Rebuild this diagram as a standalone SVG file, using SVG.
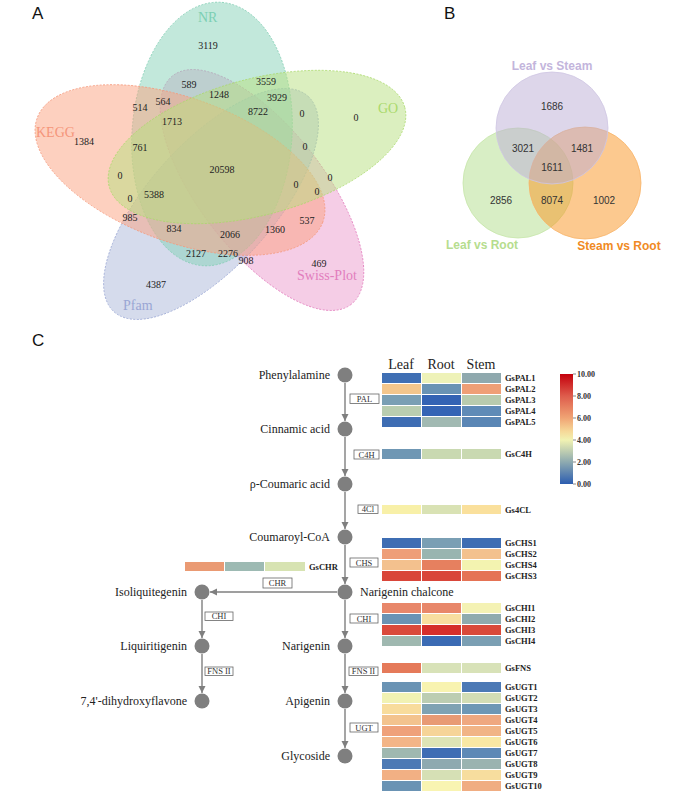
<svg xmlns="http://www.w3.org/2000/svg" width="685" height="793" viewBox="0 0 685 793">
<style>
.pl{font-family:"Liberation Sans",Arial,sans-serif;font-size:17px;fill:#111}
.va{font-family:"Liberation Serif","Times New Roman",serif;font-size:10px;fill:#222;text-anchor:middle}
.vl{font-family:"Liberation Serif","Times New Roman",serif;font-size:14px}
.vb{font-family:"Liberation Sans",Arial,sans-serif;font-size:10px;fill:#333;text-anchor:middle}
.vbl{font-family:"Liberation Sans",Arial,sans-serif;font-size:12px;font-weight:bold;text-anchor:middle}
.nd{fill:#7f7f7f}
.nl{font-family:"Liberation Serif","Times New Roman",serif;font-size:12px;fill:#222}
.ez rect{fill:#fff;stroke:#666;stroke-width:0.8}
.ez text{font-family:"Liberation Serif","Times New Roman",serif;font-size:8.5px;fill:#333;text-anchor:middle}
.hd{font-family:"Liberation Serif","Times New Roman",serif;font-size:14px;fill:#222;text-anchor:middle}
.gl{font-family:"Liberation Serif","Times New Roman",serif;font-size:8.5px;font-weight:bold;fill:#222}
.tk{font-family:"Liberation Serif","Times New Roman",serif;font-size:8px;font-weight:bold;fill:#333}
.cn line{stroke:#7f7f7f;stroke-width:1.4}
.ea{stroke-width:0.8;stroke-dasharray:2 1.5;fill-opacity:0.5}
</style>
<defs>
<marker id="ah" markerWidth="8" markerHeight="8" refX="7" refY="4" orient="auto" markerUnits="userSpaceOnUse">
<path d="M0,0.5 L7,4 L0,7.5 z" fill="#7f7f7f"/>
</marker>
<linearGradient id="cb" x1="0" y1="0" x2="0" y2="1">
<stop offset="0" stop-color="#c4000c"/>
<stop offset="0.2" stop-color="#de5c4c"/>
<stop offset="0.4" stop-color="#f0a474"/>
<stop offset="0.52" stop-color="#f6d898"/>
<stop offset="0.6" stop-color="#f1f2b2"/>
<stop offset="0.8" stop-color="#8eaab0"/>
<stop offset="1" stop-color="#2c5db0"/>
</linearGradient>
</defs>
<rect width="685" height="793" fill="#fff"/>

<!-- Panel labels -->
<text class="pl" x="32" y="19">A</text>
<text class="pl" x="444" y="19">B</text>
<text class="pl" x="32" y="346">C</text>

<!-- Venn A -->
<g id="vennA">
<ellipse class="ea" cx="262" cy="190" rx="145" ry="62" transform="rotate(52 262 190)" fill="#eb9bcd" stroke="#e27dbd"/>
<ellipse class="ea" cx="211" cy="204" rx="145" ry="62" transform="rotate(-48 211 204)" fill="#abb7d9" stroke="#9aa6d4"/>
<ellipse class="ea" cx="212" cy="134" rx="80" ry="132" transform="rotate(4 212 134)" fill="#85d1b7" stroke="#7fcdb3"/>
<ellipse class="ea" cx="180" cy="170" rx="152" ry="72" transform="rotate(20 180 170)" fill="#fba17f" stroke="#f59a7c"/>
<ellipse class="ea" cx="257" cy="147" rx="153" ry="68" transform="rotate(-15 257 147)" fill="#b7df7f" stroke="#aad96b"/>
<text class="vl" x="198" y="22" fill="#7ccfb3">NR</text>
<text class="vl" x="36" y="137" fill="#f5957a">KEGG</text>
<text class="vl" x="378" y="113" fill="#aad96b">GO</text>
<text class="vl" x="297" y="280" fill="#e27dbd">Swiss-Plot</text>
<text class="vl" x="123" y="310" fill="#9aa6d4">Pfam</text>
<text class="va" x="208" y="49">3119</text>
<text class="va" x="189" y="88">589</text>
<text class="va" x="219" y="98">1248</text>
<text class="va" x="163" y="105">564</text>
<text class="va" x="140" y="111">514</text>
<text class="va" x="172" y="125">1713</text>
<text class="va" x="84" y="145">1384</text>
<text class="va" x="140" y="151">761</text>
<text class="va" x="266" y="85">3559</text>
<text class="va" x="277" y="101">3929</text>
<text class="va" x="258" y="115">8722</text>
<text class="va" x="302" y="117">0</text>
<text class="va" x="356" y="121">0</text>
<text class="va" x="305" y="150">0</text>
<text class="va" x="222" y="173">20598</text>
<text class="va" x="120" y="179">0</text>
<text class="va" x="130" y="202">0</text>
<text class="va" x="154" y="198">5388</text>
<text class="va" x="130" y="221">985</text>
<text class="va" x="174" y="232">834</text>
<text class="va" x="196" y="257">2127</text>
<text class="va" x="156" y="288">4387</text>
<text class="va" x="296" y="188">0</text>
<text class="va" x="330" y="181">0</text>
<text class="va" x="317" y="195">0</text>
<text class="va" x="307" y="224">537</text>
<text class="va" x="275" y="233">1360</text>
<text class="va" x="230" y="238">2066</text>
<text class="va" x="228" y="257">2276</text>
<text class="va" x="246" y="264">908</text>
<text class="va" x="319" y="267">469</text>
</g>

<!-- Venn B -->
<g id="vennB">
<circle cx="518" cy="183" r="55" fill="#b1dd8b" fill-opacity="0.5" stroke="#c7e6aa" stroke-width="0.8"/>
<circle cx="585" cy="183" r="56" fill="#f9931f" fill-opacity="0.5" stroke="#f8b46a" stroke-width="0.8"/>
<circle cx="552" cy="128" r="56" fill="#bbadd5" fill-opacity="0.5" stroke="#cfc6e3" stroke-width="0.8"/>
<text class="vbl" x="552" y="70" fill="#c3b5dc">Leaf vs Steam</text>
<text class="vbl" x="482" y="249" fill="#b6dd8e">Leaf vs Root</text>
<text class="vbl" x="619" y="250" fill="#f08a24">Steam vs Root</text>
<text class="vb" x="552" y="110">1686</text>
<text class="vb" x="523" y="152">3021</text>
<text class="vb" x="582" y="152">1481</text>
<text class="vb" x="552" y="171">1611</text>
<text class="vb" x="501" y="204">2856</text>
<text class="vb" x="552" y="204">8074</text>
<text class="vb" x="604" y="204">1002</text>
</g>

<!-- Connectors -->
<g id="connectors" class="cn">
<line x1="345" y1="383" x2="345" y2="421" marker-end="url(#ah)"/>
<line x1="345" y1="437" x2="345" y2="476" marker-end="url(#ah)"/>
<line x1="345" y1="492" x2="345" y2="529" marker-end="url(#ah)"/>
<line x1="345" y1="545" x2="345" y2="584" marker-end="url(#ah)"/>
<line x1="345" y1="600" x2="345" y2="638" marker-end="url(#ah)"/>
<line x1="345" y1="654" x2="345" y2="693" marker-end="url(#ah)"/>
<line x1="345" y1="709" x2="345" y2="748" marker-end="url(#ah)"/>
<line x1="337" y1="592" x2="210" y2="592" marker-end="url(#ah)"/>
<line x1="202" y1="600" x2="202" y2="638" marker-end="url(#ah)"/>
<line x1="202" y1="654" x2="202" y2="693" marker-end="url(#ah)"/>
</g>

<!-- Pathway nodes -->
<g id="n-phenylalamine"><circle class="nd" cx="345" cy="375" r="7.5"/><text class="nl" x="330" y="379" text-anchor="end">Phenylalamine</text></g>
<g id="n-cinnamic"><circle class="nd" cx="345" cy="429" r="7.5"/><text class="nl" x="330" y="433" text-anchor="end">Cinnamic acid</text></g>
<g id="n-coumaric"><circle class="nd" cx="345" cy="484" r="7.5"/><text class="nl" x="330" y="488" text-anchor="end">ρ-Coumaric acid</text></g>
<g id="n-coumaroylcoa"><circle class="nd" cx="345" cy="537" r="7.5"/><text class="nl" x="330" y="541" text-anchor="end">Coumaroyl-CoA</text></g>
<g id="n-chalcone"><circle class="nd" cx="345" cy="592" r="7.5"/><text class="nl" x="360" y="596">Narigenin chalcone</text></g>
<g id="n-narigenin"><circle class="nd" cx="345" cy="646" r="7.5"/><text class="nl" x="330" y="650" text-anchor="end">Narigenin</text></g>
<g id="n-apigenin"><circle class="nd" cx="345" cy="701" r="7.5"/><text class="nl" x="330" y="705" text-anchor="end">Apigenin</text></g>
<g id="n-glycoside"><circle class="nd" cx="345" cy="756" r="7.5"/><text class="nl" x="330" y="760" text-anchor="end">Glycoside</text></g>
<g id="n-isoliquitegenin"><circle class="nd" cx="202" cy="592" r="7.5"/><text class="nl" x="187" y="596" text-anchor="end">Isoliquitegenin</text></g>
<g id="n-liquiritigenin"><circle class="nd" cx="202" cy="646" r="7.5"/><text class="nl" x="187" y="650" text-anchor="end">Liquiritigenin</text></g>
<g id="n-dihydroxyflavone"><circle class="nd" cx="202" cy="701" r="7.5"/><text class="nl" x="187" y="705" text-anchor="end">7,4'-dihydroxyflavone</text></g>

<!-- Enzyme boxes -->
<g id="enzymes" class="ez">
<rect x="350" y="394" width="29" height="9.5"/><text x="364.5" y="402">PAL</text>
<rect x="354" y="450" width="25" height="9"/><text x="366.5" y="457.5">C4H</text>
<rect x="358" y="505" width="20" height="8.5"/><text x="368" y="512">4Cl</text>
<rect x="350" y="558" width="28" height="9"/><text x="364" y="565.5">CHS</text>
<rect x="263" y="578" width="29" height="10"/><text x="277.5" y="586">CHR</text>
<rect x="205" y="612" width="28" height="8.5"/><text x="219" y="619">CHI</text>
<rect x="350" y="614" width="28" height="9"/><text x="364" y="621.5">CHI</text>
<rect x="205" y="667" width="28" height="8.5"/><text x="219" y="674">FNS II</text>
<rect x="349" y="667" width="29" height="8.5"/><text x="363.5" y="674">FNS II</text>
<rect x="350" y="723" width="28" height="9"/><text x="364" y="730.5">UGT</text>
</g>

<!-- Heatmap -->
<g id="heatmap">
<text class="hd" x="401" y="369">Leaf</text>
<text class="hd" x="441" y="369">Root</text>
<text class="hd" x="481" y="369">Stem</text>
<rect x="382" y="373" width="39" height="10" fill="#3f6fb4"/><rect x="422" y="373" width="39" height="10" fill="#eef2b8"/><rect x="462" y="373" width="39" height="10" fill="#8fa9ae"/><text class="gl" x="505" y="381">GsPAL1</text>
<rect x="382" y="384" width="39" height="10" fill="#f3c68c"/><rect x="422" y="384" width="39" height="10" fill="#6a93b4"/><rect x="462" y="384" width="39" height="10" fill="#ef9f76"/><text class="gl" x="505" y="392">GsPAL2</text>
<rect x="382" y="395" width="39" height="10" fill="#7a9fb4"/><rect x="422" y="395" width="39" height="10" fill="#3463b4"/><rect x="462" y="395" width="39" height="10" fill="#b8cbae"/><text class="gl" x="505" y="403">GsPAL3</text>
<rect x="382" y="406" width="39" height="10" fill="#b9cdb0"/><rect x="422" y="406" width="39" height="10" fill="#3564b5"/><rect x="462" y="406" width="39" height="10" fill="#5f8bb7"/><text class="gl" x="505" y="414">GsPAL4</text>
<rect x="382" y="417" width="39" height="10" fill="#3e6db3"/><rect x="422" y="417" width="39" height="10" fill="#a1b9b2"/><rect x="462" y="417" width="39" height="10" fill="#5a86b5"/><text class="gl" x="505" y="425">GsPAL5</text>
<rect x="382" y="449" width="39" height="10" fill="#6f97b4"/><rect x="422" y="449" width="39" height="10" fill="#c9d9b1"/><rect x="462" y="449" width="39" height="10" fill="#c9d9b1"/><text class="gl" x="505" y="457">GsC4H</text>
<rect x="382" y="505" width="39" height="9" fill="#f8f0a8"/><rect x="422" y="505" width="39" height="9" fill="#d9e2b4"/><rect x="462" y="505" width="39" height="9" fill="#fae09c"/><text class="gl" x="505" y="513">Gs4CL</text>
<rect x="382" y="538" width="39" height="10" fill="#3e6db3"/><rect x="422" y="538" width="39" height="10" fill="#7a9fb4"/><rect x="462" y="538" width="39" height="10" fill="#3e6db3"/><text class="gl" x="505" y="546">GsCHS1</text>
<rect x="382" y="549" width="39" height="10" fill="#ee9e78"/><rect x="422" y="549" width="39" height="10" fill="#99b5b0"/><rect x="462" y="549" width="39" height="10" fill="#f3c18e"/><text class="gl" x="505" y="557">GsCHS2</text>
<rect x="382" y="560" width="39" height="10" fill="#f3c18e"/><rect x="422" y="560" width="39" height="10" fill="#e6805f"/><rect x="462" y="560" width="39" height="10" fill="#f3f3b0"/><text class="gl" x="505" y="568">GsCHS4</text>
<rect x="382" y="571" width="39" height="10" fill="#d9463a"/><rect x="422" y="571" width="39" height="10" fill="#d9463a"/><rect x="462" y="571" width="39" height="10" fill="#e57355"/><text class="gl" x="505" y="579">GsCHS3</text>
<rect x="382" y="603" width="39" height="10" fill="#e8876a"/><rect x="422" y="603" width="39" height="10" fill="#e8876a"/><rect x="462" y="603" width="39" height="10" fill="#f4f2b4"/><text class="gl" x="505" y="611">GsCHI1</text>
<rect x="382" y="614" width="39" height="10" fill="#6a93b4"/><rect x="422" y="614" width="39" height="10" fill="#f8dea0"/><rect x="462" y="614" width="39" height="10" fill="#8fabae"/><text class="gl" x="505" y="622">GsCHI2</text>
<rect x="382" y="625" width="39" height="10" fill="#da4a3c"/><rect x="422" y="625" width="39" height="10" fill="#d52e2b"/><rect x="462" y="625" width="39" height="10" fill="#d94a3a"/><text class="gl" x="505" y="633">GsCHI3</text>
<rect x="382" y="636" width="39" height="10" fill="#9fb8b0"/><rect x="422" y="636" width="39" height="10" fill="#3b6bb4"/><rect x="462" y="636" width="39" height="10" fill="#7b9fb3"/><text class="gl" x="505" y="644">GsCHI4</text>
<rect x="382" y="663" width="39" height="10" fill="#e57a5a"/><rect x="422" y="663" width="39" height="10" fill="#d8e2b8"/><rect x="462" y="663" width="39" height="10" fill="#d8e2b8"/><text class="gl" x="505" y="671">GsFNS</text>
<rect x="382" y="682" width="39" height="10" fill="#6a93b4"/><rect x="422" y="682" width="39" height="10" fill="#f8f3b0"/><rect x="462" y="682" width="39" height="10" fill="#4c79b5"/><text class="gl" x="505" y="690">GsUGT1</text>
<rect x="382" y="693" width="39" height="10" fill="#f1f2b3"/><rect x="422" y="693" width="39" height="10" fill="#bccdb2"/><rect x="462" y="693" width="39" height="10" fill="#d3ddb5"/><text class="gl" x="505" y="701">GsUGT2</text>
<rect x="382" y="704" width="39" height="10" fill="#f8dc9c"/><rect x="422" y="704" width="39" height="10" fill="#7fa2b3"/><rect x="462" y="704" width="39" height="10" fill="#6e97b5"/><text class="gl" x="505" y="712">GsUGT3</text>
<rect x="382" y="715" width="39" height="10" fill="#f3c38e"/><rect x="422" y="715" width="39" height="10" fill="#e89a74"/><rect x="462" y="715" width="39" height="10" fill="#efa880"/><text class="gl" x="505" y="723">GsUGT4</text>
<rect x="382" y="726" width="39" height="10" fill="#efa17a"/><rect x="422" y="726" width="39" height="10" fill="#f6d498"/><rect x="462" y="726" width="39" height="10" fill="#f1b486"/><text class="gl" x="505" y="734">GsUGT5</text>
<rect x="382" y="737" width="39" height="10" fill="#f3b587"/><rect x="422" y="737" width="39" height="10" fill="#dee4b5"/><rect x="462" y="737" width="39" height="10" fill="#f8e8a4"/><text class="gl" x="505" y="745">GsUGT6</text>
<rect x="382" y="748" width="39" height="10" fill="#9fb8b0"/><rect x="422" y="748" width="39" height="10" fill="#3e6db4"/><rect x="462" y="748" width="39" height="10" fill="#5d89b6"/><text class="gl" x="505" y="756">GsUGT7</text>
<rect x="382" y="759" width="39" height="10" fill="#4d7ab5"/><rect x="422" y="759" width="39" height="10" fill="#8ea9b0"/><rect x="462" y="759" width="39" height="10" fill="#9ab3b0"/><text class="gl" x="505" y="767">GsUGT8</text>
<rect x="382" y="770" width="39" height="10" fill="#f2b084"/><rect x="422" y="770" width="39" height="10" fill="#d6e0b5"/><rect x="462" y="770" width="39" height="10" fill="#f7dd9e"/><text class="gl" x="505" y="778">GsUGT9</text>
<rect x="382" y="781" width="39" height="10" fill="#6a93b4"/><rect x="422" y="781" width="39" height="10" fill="#f9f4b2"/><rect x="462" y="781" width="39" height="10" fill="#f0ad82"/><text class="gl" x="505" y="789">GsUGT10</text>
<rect x="185" y="562" width="39" height="9" fill="#ea9a73"/><rect x="225" y="562" width="39" height="9" fill="#9dbab3"/><rect x="265" y="562" width="40" height="9" fill="#d7e3b2"/><text class="gl" x="309" y="569.5">GsCHR</text>
</g>

<!-- Colour scale -->
<g id="colorscale">
<rect x="560" y="374" width="13" height="110" fill="url(#cb)"/>
<g stroke="#555" stroke-width="0.7">
<line x1="573" y1="374" x2="576" y2="374"/><line x1="573" y1="396" x2="576" y2="396"/><line x1="573" y1="418" x2="576" y2="418"/><line x1="573" y1="440" x2="576" y2="440"/><line x1="573" y1="462" x2="576" y2="462"/><line x1="573" y1="484" x2="576" y2="484"/>
</g>
<text class="tk" x="577" y="377">10.00</text>
<text class="tk" x="577" y="399">8.00</text>
<text class="tk" x="577" y="421">6.00</text>
<text class="tk" x="577" y="443">4.00</text>
<text class="tk" x="577" y="465">2.00</text>
<text class="tk" x="577" y="487">0.00</text>
</g>
</svg>
